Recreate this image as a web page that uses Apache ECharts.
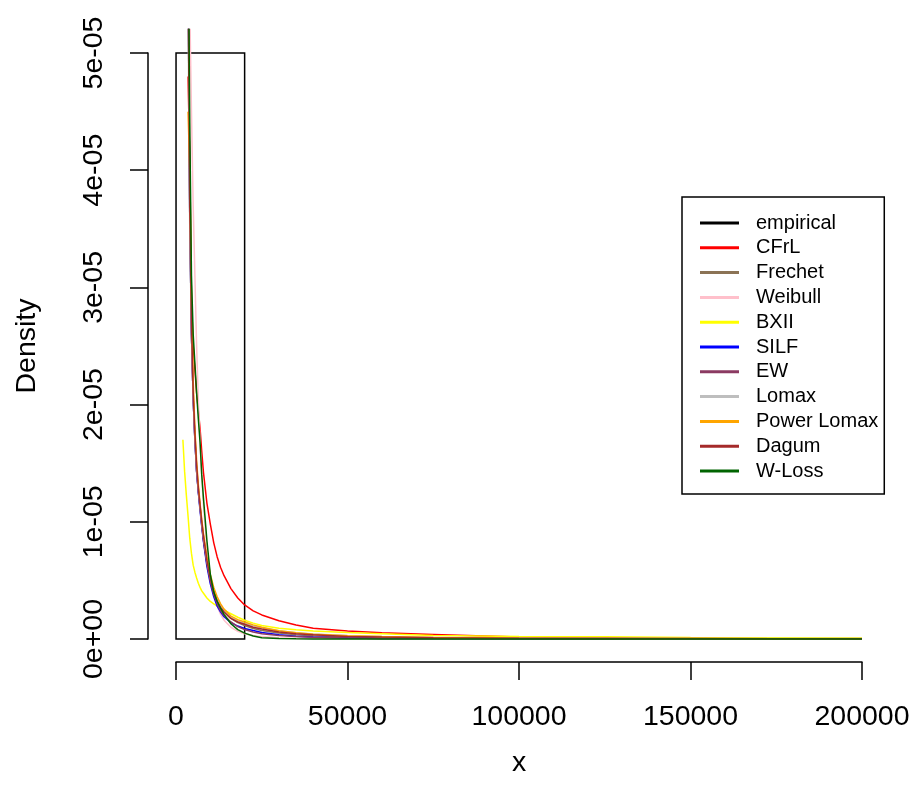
<!DOCTYPE html>
<html><head><meta charset="utf-8">
<script src="https://cdn.jsdelivr.net/npm/echarts/dist/echarts.min.js"></script>
<style>html,body{margin:0;padding:0;background:#fff}#c{width:914px;height:804px}</style>
</head><body><div id="c"></div><script>
// ---- data ----
const histBreaks = [0, 20000];
const histDensity = [5e-5];
const xTicks = [0, 50000, 100000, 150000, 200000];
const xTickLabels = ['0', '50000', '100000', '150000', '200000'];
const yTickLabels = ['0e+00', '1e-05', '2e-05', '3e-05', '4e-05', '5e-05'];
const xGrid = [2000, 2500, 3000, 3500, 4000, 4500, 5000, 5500, 6000, 6500, 7000, 7500, 8000, 9000, 10000, 11000, 12000, 13000, 14000, 16000, 18000, 20000, 22500, 25000, 30000, 35000, 40000, 50000, 60000, 75000, 100000, 125000, 150000, 175000, 200000];
const cfrl = [null, null, null, 48e-6, 41e-6, 29e-6, 25e-6, 23e-6, 21e-6, 19.5e-6, 18e-6, 16e-6, 14.2e-6, 11.6e-6, 9.8e-6, 8.2e-6, 7.0e-6, 6.1e-6, 5.4e-6, 4.3e-6, 3.5e-6, 2.9e-6, 2.4e-6, 2.05e-6, 1.55e-6, 1.2e-6, 0.92e-6, 0.68e-6, 0.52e-6, 0.38e-6, 0.16e-6, 0.11e-6, 0.05e-6, 0.04e-6, 0.03e-6];
const frechet = [null, null, null, 70e-6, 36e-6, 26e-6, 20.5e-6, 17e-6, 14.3e-6, 12.6e-6, 11.2e-6, 9.8e-6, 8.5e-6, 6.5e-6, 5.0e-6, 4.0e-6, 3.2e-6, 2.7e-6, 2.3e-6, 1.75e-6, 1.4e-6, 1.15e-6, 0.9e-6, 0.72e-6, 0.5e-6, 0.36e-6, 0.27e-6, 0.17e-6, 0.12e-6, 0.08e-6, 0.045e-6, 0.03e-6, 0.02e-6, 0.015e-6, 0.01e-6];
const weibull = [null, null, null, 62e-6, 54e-6, 45e-6, 37e-6, 31e-6, 25e-6, 20.5e-6, 16.8e-6, 13.8e-6, 11.4e-6, 7.8e-6, 5.4e-6, 3.8e-6, 2.8e-6, 2.1e-6, 1.6e-6, 1.0e-6, 0.65e-6, 0.45e-6, 0.3e-6, 0.2e-6, 0.1e-6, 0.05e-6, 0.03e-6, 0.01e-6, 0.005e-6, 0, 0, 0, 0, 0, 0];
const bxii = [17e-6, 14.3e-6, 12.3e-6, 10.5e-6, 8.6e-6, 7.3e-6, 6.3e-6, 5.7e-6, 5.2e-6, 4.75e-6, 4.4e-6, 4.1e-6, 3.9e-6, 3.5e-6, 3.2e-6, 3.0e-6, 2.8e-6, 2.6e-6, 2.45e-6, 2.15e-6, 1.85e-6, 1.6e-6, 1.35e-6, 1.15e-6, 0.92e-6, 0.78e-6, 0.68e-6, 0.56e-6, 0.45e-6, 0.3e-6, 0.22e-6, 0.18e-6, 0.12e-6, 0.1e-6, 0.08e-6];
const silf = [null, null, null, 58e-6, 36e-6, 26e-6, 20.5e-6, 17e-6, 14.3e-6, 12.5e-6, 11e-6, 9.6e-6, 8.3e-6, 6.2e-6, 4.7e-6, 3.6e-6, 2.8e-6, 2.3e-6, 1.9e-6, 1.4e-6, 1.1e-6, 0.9e-6, 0.72e-6, 0.55e-6, 0.35e-6, 0.24e-6, 0.17e-6, 0.09e-6, 0.05e-6, 0.03e-6, 0.01e-6, 0.005e-6, 0, 0, 0];
const ew = [null, null, null, 60e-6, 36e-6, 26e-6, 20.5e-6, 17e-6, 14.3e-6, 12.6e-6, 11.2e-6, 9.7e-6, 8.4e-6, 6.4e-6, 4.9e-6, 3.8e-6, 3.0e-6, 2.4e-6, 2.0e-6, 1.45e-6, 1.05e-6, 0.8e-6, 0.6e-6, 0.45e-6, 0.3e-6, 0.2e-6, 0.14e-6, 0.08e-6, 0.05e-6, 0.03e-6, 0.015e-6, 0.01e-6, 0.005e-6, 0, 0];
const lomax = [null, null, null, 54e-6, 35e-6, 26e-6, 20.5e-6, 17.2e-6, 14.6e-6, 12.8e-6, 11.3e-6, 9.9e-6, 8.7e-6, 6.7e-6, 5.2e-6, 4.2e-6, 3.4e-6, 2.85e-6, 2.4e-6, 1.85e-6, 1.55e-6, 1.35e-6, 1.12e-6, 0.95e-6, 0.7e-6, 0.53e-6, 0.42e-6, 0.3e-6, 0.22e-6, 0.15e-6, 0.09e-6, 0.06e-6, 0.045e-6, 0.035e-6, 0.03e-6];
const powerLomax = [null, null, null, 45e-6, 40e-6, 29e-6, 22e-6, 18e-6, 15.2e-6, 13.2e-6, 11.6e-6, 10.2e-6, 9e-6, 7.0e-6, 5.5e-6, 4.4e-6, 3.6e-6, 3.0e-6, 2.55e-6, 1.95e-6, 1.65e-6, 1.45e-6, 1.2e-6, 1.0e-6, 0.7e-6, 0.52e-6, 0.4e-6, 0.27e-6, 0.2e-6, 0.12e-6, 0.07e-6, 0.05e-6, 0.035e-6, 0.025e-6, 0.02e-6];
const dagum = [null, null, null, 57e-6, 37e-6, 27e-6, 21e-6, 17.5e-6, 14.8e-6, 12.9e-6, 11.4e-6, 10e-6, 8.8e-6, 6.7e-6, 5.1e-6, 4.0e-6, 3.2e-6, 2.7e-6, 2.3e-6, 1.75e-6, 1.45e-6, 1.25e-6, 1.0e-6, 0.85e-6, 0.6e-6, 0.45e-6, 0.35e-6, 0.22e-6, 0.16e-6, 0.1e-6, 0.06e-6, 0.04e-6, 0.03e-6, 0.02e-6, 0.015e-6];
const wloss = [null, null, null, 62e-6, 44e-6, 31e-6, 26e-6, 23.5e-6, 21e-6, 18.8e-6, 16.8e-6, 14e-6, 12e-6, 8.4e-6, 5.5e-6, 4.0e-6, 3.2e-6, 2.6e-6, 2.1e-6, 1.3e-6, 0.8e-6, 0.5e-6, 0.25e-6, 0.1e-6, 0.03e-6, 0.01e-6, 0, 0, 0, 0, 0, 0, 0, 0, 0];

const curveNames = ['CFrL', 'Frechet', 'Weibull', 'BXII', 'SILF', 'EW', 'Lomax', 'Power Lomax', 'Dagum', 'W-Loss'];
const curveValues = [cfrl, frechet, weibull, bxii, silf, ew, lomax, powerLomax, dagum, wloss];
const curveColors = ['#FF0000', '#8B7355', '#FFC0CB', '#FFFF00', '#0000FF', '#8B3A62', '#BEBEBE', '#FFA500', '#A52A2A', '#006400'];

// ---- chart ----
const FONT = "'Liberation Sans', Arial, sans-serif";
const chart = echarts.init(document.getElementById('c'), null, {renderer: 'canvas'});

const series = [{
  name: 'empirical',
  type: 'custom',
  xAxisIndex: 0, yAxisIndex: 0,
  itemStyle: {color: '#000'},
  data: histDensity.map((d, i) => [histBreaks[i], histBreaks[i + 1], d]),
  encode: {x: [0, 1], y: 2},
  renderItem: function (params, api) {
    const p0 = api.coord([api.value(0), 0]);
    const p1 = api.coord([api.value(1), api.value(2)]);
    return {
      type: 'rect',
      shape: {x: p0[0], y: p1[1], width: p1[0] - p0[0], height: p0[1] - p1[1]},
      style: {fill: null, stroke: '#000', lineWidth: 1.5}
    };
  }
}];
curveNames.forEach((n, k) => {
  series.push({
    name: n,
    type: 'line',
    xAxisIndex: 0, yAxisIndex: 0,
    showSymbol: false,
    symbol: 'none',
    clip: true,
    color: curveColors[k],
    lineStyle: {color: curveColors[k], width: 1.5},
    data: xGrid.map((x, i) => [x, curveValues[k][i]])
  });
});

const axisLineStyle = {color: '#000', width: 1.5};
const option = {
  animation: false,
  backgroundColor: '#fff',
  grid: [
    {left: 148.6, right: 24.6, top: 29.6, bottom: 141.6},
    {left: 176, right: 52, top: 53, bottom: 165}
  ],
  xAxis: [
    {gridIndex: 0, type: 'value', min: -8000, max: 208000, show: false, splitLine: {show: false}},
    {gridIndex: 1, type: 'value', min: xTicks[0], max: xTicks[xTicks.length - 1], interval: xTicks[1] - xTicks[0],
     offset: 23,
     axisLine: {show: true, onZero: false, lineStyle: axisLineStyle},
     axisTick: {show: true, length: 18, lineStyle: axisLineStyle},
     axisLabel: {fontSize: 28.5, color: '#000', fontFamily: FONT, margin: 41,
       formatter: function (v) { const i = xTicks.indexOf(v); return i >= 0 ? xTickLabels[i] : ''; }},
     splitLine: {show: false},
     name: 'x', nameLocation: 'middle', nameGap: 87,
     nameTextStyle: {fontSize: 28.5, color: '#000', fontFamily: FONT}}
  ],
  yAxis: [
    {gridIndex: 0, type: 'value', min: -2e-6, max: 5.2e-5, show: false, splitLine: {show: false}},
    {gridIndex: 1, type: 'value', min: 0, max: 5e-5, interval: 1e-5,
     offset: 28,
     axisLine: {show: true, onZero: false, lineStyle: axisLineStyle},
     axisTick: {show: true, length: 18, lineStyle: axisLineStyle},
     axisLabel: {fontSize: 28.5, color: '#000', fontFamily: FONT, margin: 39, rotate: 90,
       formatter: function (v) { return yTickLabels[Math.round(v / 1e-5)]; }},
     splitLine: {show: false},
     name: 'Density', nameLocation: 'middle', nameGap: 106,
     nameTextStyle: {fontSize: 28.5, color: '#000', fontFamily: FONT}}
  ],
  legend: {
    orient: 'vertical',
    left: 682, top: 197,
    padding: [16, 6, 13, 18],
    itemWidth: 39, itemHeight: 3, itemGap: 4.8,
    borderColor: '#000', borderWidth: 1.5,
    selectedMode: false,
    icon: 'rect',
    textStyle: {fontSize: 20, lineHeight: 20, color: '#000', fontFamily: FONT, padding: [0, 0, 0, 12]},
    data: [{name: 'empirical', icon: 'rect', itemStyle: {color: '#000'}}].concat(
      curveNames.map((n, k) => ({name: n, icon: 'rect', itemStyle: {color: curveColors[k]}})))
  },
  series: series
};
chart.setOption(option);
</script></body></html>
